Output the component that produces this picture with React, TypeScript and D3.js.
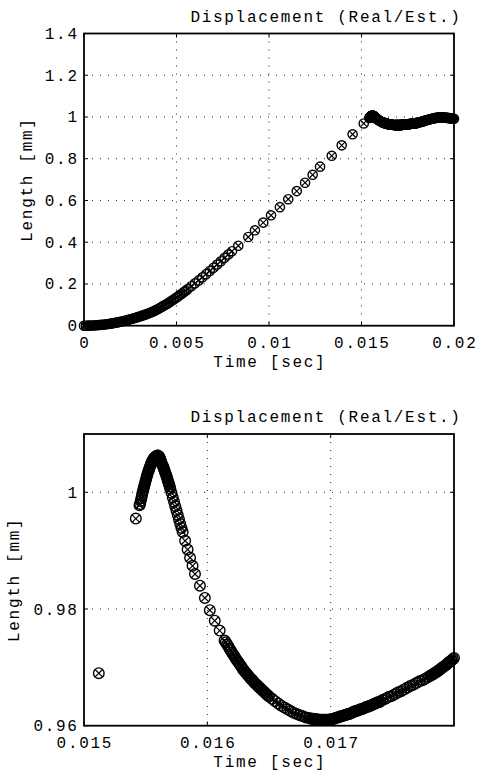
import React from "react";
import * as d3 from "d3";

// [time (ms), length (mm)] samples
const startSamples: [number, number][] = [
  [0, 0], [0.1, 0], [0.2, 0.0002], [0.3, 0.0004], [0.4, 0.0008], [0.5, 0.0012], [0.6, 0.0018],
  [0.7, 0.0024], [0.8, 0.0031], [0.9, 0.004], [1.0, 0.0049], [1.1, 0.0059], [1.2, 0.0071],
  [1.3, 0.0083], [1.4, 0.0096], [1.5, 0.011], [1.6, 0.0125], [1.7, 0.0142], [1.8, 0.0159],
  [1.9, 0.0177], [2.0, 0.0196], [2.1, 0.0216], [2.2, 0.0237], [2.3, 0.0259], [2.4, 0.0282],
  [2.5, 0.0306], [2.6, 0.0331], [2.7, 0.0357], [2.8, 0.0384], [2.9, 0.0412], [3.0, 0.0441],
];

const rampSamples: [number, number][] = [
  [3.1, 0.047], [3.2, 0.0495], [3.3, 0.053], [3.4, 0.056], [3.5, 0.0595], [3.6, 0.063],
  [3.7, 0.067], [3.8, 0.071], [3.9, 0.0755], [4.0, 0.08], [4.1, 0.085], [4.2, 0.09],
  [4.3, 0.095], [4.4, 0.1], [4.5, 0.1055], [4.6, 0.111], [4.7, 0.117], [4.8, 0.123],
  [4.9, 0.129], [5.0, 0.135], [5.1, 0.1415], [5.2, 0.148], [5.3, 0.1545], [5.4, 0.161],
  [5.5, 0.168], [5.6, 0.175], [5.8, 0.189], [6.0, 0.203], [6.2, 0.217], [6.4, 0.232],
  [6.6, 0.247], [6.8, 0.262], [7.0, 0.278], [7.2, 0.293], [7.4, 0.309], [7.6, 0.325],
  [7.8, 0.341], [8.0, 0.357],
  [8.34, 0.383], [8.88, 0.425], [9.24, 0.457], [9.69, 0.494], [10.11, 0.529], [10.59, 0.568],
  [11.04, 0.606], [11.5, 0.645], [11.95, 0.685], [12.36, 0.723], [12.76, 0.762], [13.39, 0.814],
  [13.93, 0.864], [14.52, 0.917], [15.12, 0.969],
];

const peakSamples: [number, number][] = [
  [15.42, 0.9955], [15.45, 0.9978], [15.455, 0.998], [15.46, 0.9985], [15.465, 0.999],
  [15.47, 0.9995], [15.475, 1.0], [15.48, 1.0004], [15.485, 1.0008], [15.49, 1.0012],
  [15.495, 1.0016], [15.5, 1.002], [15.505, 1.0024], [15.51, 1.0028], [15.515, 1.0031],
  [15.52, 1.0035], [15.525, 1.0038], [15.53, 1.0041], [15.535, 1.0044], [15.54, 1.0047],
  [15.545, 1.005], [15.55, 1.0052], [15.555, 1.0054], [15.56, 1.0056], [15.565, 1.0058],
  [15.57, 1.0059], [15.575, 1.006], [15.58, 1.0061], [15.585, 1.0062], [15.59, 1.0062],
  [15.595, 1.0063], [15.6, 1.0063], [15.605, 1.0062], [15.61, 1.0061], [15.615, 1.0059],
  [15.62, 1.0056], [15.625, 1.0053], [15.63, 1.0049], [15.635, 1.0047], [15.64, 1.0045],
  [15.645, 1.0042], [15.65, 1.0039], [15.655, 1.0036], [15.66, 1.0033], [15.665, 1.003],
  [15.67, 1.0027], [15.675, 1.0024], [15.68, 1.002], [15.685, 1.0017], [15.69, 1.0014],
  [15.695, 1.001],
];

const descentSamples: [number, number][] = [
  [15.7, 1.0006], [15.71, 0.9999], [15.72, 0.9991], [15.73, 0.9984], [15.74, 0.9976],
  [15.75, 0.9969], [15.76, 0.9961], [15.77, 0.9954], [15.78, 0.9946], [15.79, 0.9939],
  [15.8, 0.9932], [15.82, 0.9917], [15.84, 0.9902], [15.86, 0.9888], [15.88, 0.9874],
  [15.9, 0.986], [15.94, 0.984], [15.98, 0.9819], [16.02, 0.9798], [16.06, 0.978],
  [16.1, 0.9763], [16.14, 0.9746],
];

const valleySamples: [number, number][] = [
  [16.15, 0.9743], [16.16, 0.9739], [16.17, 0.9736], [16.18, 0.9732], [16.19, 0.9729],
  [16.2, 0.9725], [16.21, 0.9722], [16.22, 0.9719], [16.23, 0.9715], [16.24, 0.9712],
  [16.25, 0.9709], [16.26, 0.9706], [16.27, 0.9703], [16.28, 0.97], [16.29, 0.9696],
  [16.3, 0.9694], [16.31, 0.9691], [16.32, 0.9689], [16.33, 0.9686], [16.34, 0.9684],
  [16.35, 0.9681], [16.36, 0.9679], [16.37, 0.9677], [16.38, 0.9674], [16.39, 0.9672],
  [16.4, 0.967], [16.41, 0.9668], [16.42, 0.9666], [16.43, 0.9664], [16.44, 0.9662],
  [16.45, 0.966], [16.46, 0.9658], [16.47, 0.9656], [16.48, 0.9654], [16.49, 0.9652],
  [16.5, 0.965],
  [16.525, 0.9646], [16.55, 0.9642], [16.575, 0.9638], [16.6, 0.9634], [16.625, 0.9631],
  [16.65, 0.9628], [16.675, 0.9625], [16.7, 0.9622], [16.725, 0.962], [16.75, 0.9618],
  [16.775, 0.9616], [16.8, 0.9614], [16.825, 0.9613],
  [16.84, 0.9612], [16.85, 0.9612], [16.86, 0.9612], [16.87, 0.9611], [16.88, 0.9611],
  [16.89, 0.9611], [16.9, 0.961], [16.91, 0.961], [16.92, 0.961], [16.93, 0.961],
  [16.94, 0.961], [16.95, 0.961], [16.96, 0.961], [16.97, 0.961], [16.98, 0.961],
  [16.99, 0.961], [17.0, 0.9611], [17.01, 0.9611], [17.02, 0.9612], [17.03, 0.9612],
  [17.04, 0.9613], [17.05, 0.9614], [17.06, 0.9614], [17.07, 0.9615], [17.08, 0.9616],
  [17.09, 0.9616], [17.1, 0.9617], [17.11, 0.9618], [17.12, 0.9618], [17.13, 0.9619],
  [17.14, 0.962], [17.15, 0.962], [17.16, 0.9621], [17.17, 0.9622], [17.18, 0.9623],
  [17.19, 0.9624], [17.2, 0.9625], [17.21, 0.9625], [17.22, 0.9626], [17.23, 0.9627],
  [17.24, 0.9628], [17.25, 0.9628], [17.26, 0.9629], [17.27, 0.963], [17.28, 0.9631],
  [17.29, 0.9632], [17.3, 0.9633], [17.31, 0.9633], [17.32, 0.9634], [17.33, 0.9635],
  [17.34, 0.9636], [17.35, 0.9637], [17.36, 0.9638], [17.37, 0.9639], [17.38, 0.964],
  [17.39, 0.964], [17.4, 0.9641],
  [17.42, 0.9644], [17.445, 0.9646], [17.47, 0.9649], [17.495, 0.9651], [17.52, 0.9654],
  [17.545, 0.9657], [17.57, 0.9659], [17.595, 0.9662], [17.62, 0.9665], [17.645, 0.9668],
  [17.67, 0.967], [17.695, 0.9673], [17.72, 0.9676], [17.745, 0.9678], [17.77, 0.9681],
  [17.795, 0.9684],
  [17.81, 0.9686], [17.82, 0.9687], [17.83, 0.9688], [17.84, 0.969], [17.85, 0.9691],
  [17.86, 0.9692], [17.87, 0.9694], [17.88, 0.9695], [17.89, 0.9697], [17.9, 0.9699],
  [17.91, 0.97], [17.92, 0.9702], [17.93, 0.9703], [17.94, 0.9705], [17.95, 0.9707],
  [17.96, 0.9709], [17.97, 0.971], [17.98, 0.9712], [17.99, 0.9714], [18.0, 0.9716],
];

const tailSamples: [number, number][] = [
  [18.05, 0.9727], [18.1, 0.9738], [18.15, 0.975], [18.2, 0.9762], [18.25, 0.9775],
  [18.3, 0.9788], [18.35, 0.9801], [18.4, 0.9814], [18.45, 0.9827], [18.5, 0.984],
  [18.55, 0.9853], [18.6, 0.9866], [18.65, 0.9878], [18.7, 0.989], [18.75, 0.9902],
  [18.8, 0.9914], [18.85, 0.9925], [18.9, 0.9935], [18.95, 0.9945], [19.0, 0.9954],
  [19.05, 0.9962], [19.1, 0.9969], [19.15, 0.9975], [19.2, 0.9979], [19.25, 0.9982],
  [19.3, 0.9983], [19.35, 0.9982], [19.4, 0.998], [19.45, 0.9977], [19.5, 0.9973],
  [19.55, 0.9968], [19.6, 0.9963], [19.65, 0.9957], [19.7, 0.9951], [19.75, 0.9945],
  [19.8, 0.9939], [19.85, 0.9933], [19.9, 0.9928], [19.95, 0.9923], [20.0, 0.9918],
];

const samples: [number, number][] = [
  ...startSamples, ...rampSamples, ...peakSamples, ...descentSamples, ...valleySamples, ...tailSamples,
];

const overviewXTicks = [0, 0.005, 0.01, 0.015, 0.02];
const overviewYTicks = [0, 0.2, 0.4, 0.6, 0.8, 1, 1.2, 1.4];
const detailXTicks = [0.015, 0.016, 0.017];
const detailYTicks = [0.96, 0.98, 1];
const titleText = "Displacement (Real/Est.)";
const xLabelText = "Time [sec]";
const yLabelText = "Length [mm]";

const FONT = "'Liberation Mono', 'Courier New', monospace";
const FS = 16;
const LS = 1.7;

type PanelProps = {
  top: number;
  height: number;
  xDomain: [number, number];
  yDomain: [number, number];
  xTicks: number[];
  yTicks: number[];
  r: number;
  yLabelX: number;
};

function Panel({ top, height, xDomain, yDomain, xTicks, yTicks, r, yLabelX }: PanelProps) {
  const left = 84;
  const right = 454;
  const bottom = top + height;
  const x = d3.scaleLinear().domain(xDomain).range([left, right]);
  const y = d3.scaleLinear().domain(yDomain).range([bottom, top]);
  const eps = 1e-9;
  const pts = samples
    .map(([t, v]) => [t / 1000, v] as [number, number])
    .filter(([t, v]) => t >= xDomain[0] - eps && t <= xDomain[1] + eps && v >= yDomain[0] - eps && v <= yDomain[1] + eps);
  const a = r * 0.7;
  const tickLen = 4;
  const innerX = xTicks.filter((t) => t > xDomain[0] + eps && t < xDomain[1] - eps);
  const innerY = yTicks.filter((t) => t > yDomain[0] + eps && t < yDomain[1] - eps);
  const textStyle = { fontFamily: FONT, fontSize: FS, letterSpacing: LS } as React.CSSProperties;
  return (
    <g>
      {innerX.map((t) => (
        <line key={"gx" + t} x1={x(t)} x2={x(t)} y1={top} y2={bottom} stroke="#222" strokeWidth={1} strokeDasharray="1 7" />
      ))}
      {innerY.map((t) => (
        <line key={"gy" + t} x1={left} x2={right} y1={y(t)} y2={y(t)} stroke="#222" strokeWidth={1} strokeDasharray="1 7" />
      ))}
      {xTicks.map((t) => (
        <g key={"tx" + t}>
          <line x1={x(t)} x2={x(t)} y1={bottom} y2={bottom - tickLen} stroke="#000" />
          <line x1={x(t)} x2={x(t)} y1={top} y2={top + tickLen} stroke="#000" />
        </g>
      ))}
      {yTicks.map((t) => (
        <g key={"ty" + t}>
          <line x1={left} x2={left + tickLen} y1={y(t)} y2={y(t)} stroke="#000" />
          <line x1={right} x2={right - tickLen} y1={y(t)} y2={y(t)} stroke="#000" />
        </g>
      ))}
      <rect x={left} y={top} width={right - left} height={height} fill="none" stroke="#000" strokeWidth={1.8} />
      {pts.map(([t, v], i) => (
        <g key={"m" + i} transform={`translate(${x(t)},${y(v)})`}>
          <circle r={r} fill="none" stroke="#000" strokeWidth={1.4} />
          <path d={`M${-a},${-a}L${a},${a}M${-a},${a}L${a},${-a}`} stroke="#000" strokeWidth={1.2} fill="none" />
        </g>
      ))}
      {xTicks.map((t) => (
        <text key={"lx" + t} x={x(t) + LS / 2} y={bottom + 22} textAnchor="middle" style={textStyle} fill="#000">
          {String(t)}
        </text>
      ))}
      {yTicks.map((t) => (
        <text key={"ly" + t} x={left - 7 + LS} y={y(t) + 5.5} textAnchor="end" style={textStyle} fill="#000">
          {String(t)}
        </text>
      ))}
      <text x={(left + right) / 2 + LS / 2} y={bottom + 41} textAnchor="middle" style={textStyle} fill="#000">
        {xLabelText}
      </text>
      <text
        transform={`translate(${yLabelX},${(top + bottom) / 2}) rotate(-90)`}
        textAnchor="middle"
        style={textStyle}
        fill="#000"
      >
        {yLabelText}
      </text>
      <text x={326} y={top - 12} textAnchor="middle" style={textStyle} fill="#000">
        {titleText}
      </text>
    </g>
  );
}

export default function App() {
  return (
    <svg
      width={486}
      height={773}
      viewBox="0 0 486 773"
      style={{ position: "absolute", left: 0, top: 0, display: "block", background: "#fff" }}
    >
      <rect x={0} y={0} width={486} height={773} fill="#fff" />
      <Panel
        top={33.5}
        height={292.2}
        xDomain={[0, 0.02]}
        yDomain={[0, 1.4]}
        xTicks={overviewXTicks}
        yTicks={overviewYTicks}
        r={4.6}
        yLabelX={32}
      />
      <Panel
        top={434}
        height={291.7}
        xDomain={[0.015, 0.018]}
        yDomain={[0.96, 1.01]}
        xTicks={detailXTicks}
        yTicks={detailYTicks}
        r={5.3}
        yLabelX={19}
      />
    </svg>
  );
}
